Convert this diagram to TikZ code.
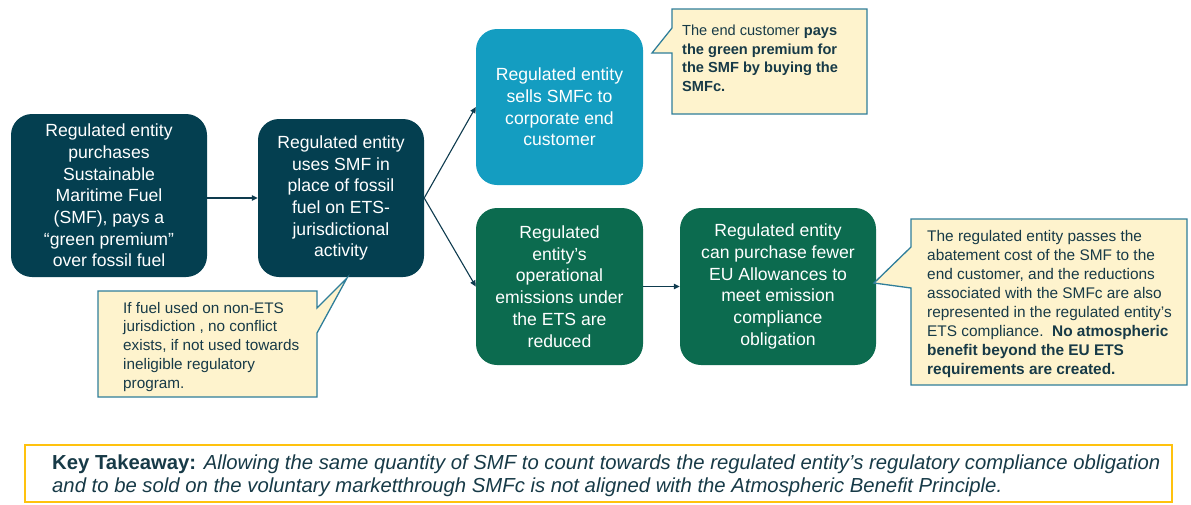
\documentclass[tikz,border=0pt]{standalone}
\usepackage{fontspec}
\setmainfont{Liberation Sans}
\usetikzlibrary{arrows.meta}

\definecolor{navy}{HTML}{043F50}
\definecolor{skyteal}{HTML}{149DC1}
\definecolor{forest}{HTML}{0C6B4F}
\definecolor{notefill}{HTML}{FEF3CD}
\definecolor{noteline}{HTML}{2F7E9A}
\definecolor{inktext}{HTML}{173A47}
\definecolor{arrowink}{HTML}{0E3B4E}
\definecolor{gold}{HTML}{FFC20E}

\tikzset{
  stepbox/.style={rectangle, rounded corners=21pt, align=center, text=white,
    font=\fontsize{17.6}{21.7}\selectfont, inner sep=0pt},
  notebox/.style={fill=notefill, draw=noteline, line width=1.3pt, line join=miter},
  notetext/.style={anchor=north west, align=left, text=inktext, inner sep=0pt},
  flow/.style={draw=arrowink, line width=1.1pt, -{Triangle[length=6pt,width=5.5pt]}},
}

\begin{document}
\begin{tikzpicture}[x=1pt, y=-1pt]
\useasboundingbox (0,0) rectangle (1191,504);

% process steps
\node[stepbox, fill=navy, minimum width=196pt, minimum height=163pt] (b1) at (109,195.5)
  {Regulated entity\\purchases\\Sustainable\\Maritime Fuel\\(SMF), pays a\\“green premium”\\over fossil fuel};
\node[stepbox, fill=navy, minimum width=166pt, minimum height=158pt] (b2) at (341,198)
  {Regulated entity\\uses SMF in\\place of fossil\\fuel on ETS-\\jurisdictional\\activity};
\node[stepbox, fill=skyteal, minimum width=167pt, minimum height=156pt] (b3) at (559.5,107)
  {Regulated entity\\sells SMFc to\\corporate end\\customer};
\node[stepbox, fill=forest, minimum width=167pt, minimum height=157pt] (b4) at (559.5,286.5)
  {Regulated\\entity’s\\operational\\emissions under\\the ETS are\\reduced};
\node[stepbox, fill=forest, minimum width=196pt, minimum height=157pt] (b5) at (778,286.5)
  {Regulated entity\\can purchase fewer\\EU Allowances to\\meet emission\\compliance\\obligation};

% connectors
\draw[flow] (b1.east |- b2) -- (b2);
\draw[flow] (b2.east) -- (b3.west);
\draw[flow] (b2.east) -- (b4.west);
\draw[flow] (b4) -- (b5);

% callout below the second step
\coordinate (t1) at (347,278);
\draw[notebox] (98,291) -- (317,291) -- (317,308) -- (t1) -- (317,333) -- (317,397) -- (98,397) -- cycle;
\node[notetext, font=\fontsize{15.3}{18.7}\selectfont] (n1) at (123,302)
  {If fuel used on non-ETS\\jurisdiction , no conflict\\exists, if not used towards\\ineligible regulatory\\program.};

% callout beside the selling step
\coordinate (t2) at (652,53);
\draw[notebox] (672,9) -- (867,9) -- (867,114) -- (672,114) -- (672,53) -- (t2) -- (672,28) -- cycle;
\node[notetext, font=\fontsize{14.6}{18.5}\selectfont] (n2) at (682,25)
  {The end customer \textbf{pays}\\\textbf{the green premium for}\\\textbf{the SMF by buying the}\\\textbf{SMFc.}};

% callout beside the allowance step
\coordinate (t3) at (874,283);
\draw[notebox] (911,219) -- (1187,219) -- (1187,385) -- (911,385) -- (911,288) -- (t3) -- (911,247) -- cycle;
\node[notetext, font=\fontsize{15.4}{19}\selectfont] (n3) at (927,230)
  {The regulated entity passes the\\abatement cost of the SMF to the\\end customer, and the reductions\\associated with the SMFc are also\\represented in the regulated entity’s\\ETS compliance.\ \ \textbf{No atmospheric}\\\textbf{benefit beyond the EU ETS}\\\textbf{requirements are created.}};

% key takeaway banner
\draw[gold, line width=2.6pt] (25,445) rectangle (1172,502);
\node[anchor=north west, align=left, inner sep=0pt, text=inktext,
  font=\fontsize{20.3}{23}\selectfont] (kt) at (52,455)
  {\textbf{Key Takeaway:} \textit{Allowing the same quantity of SMF to count towards the regulated entity’s regulatory compliance obligation}\\
   \textit{and to be sold on the voluntary marketthrough SMFc is not aligned with the Atmospheric Benefit Principle.}};
\end{tikzpicture}
\end{document}
